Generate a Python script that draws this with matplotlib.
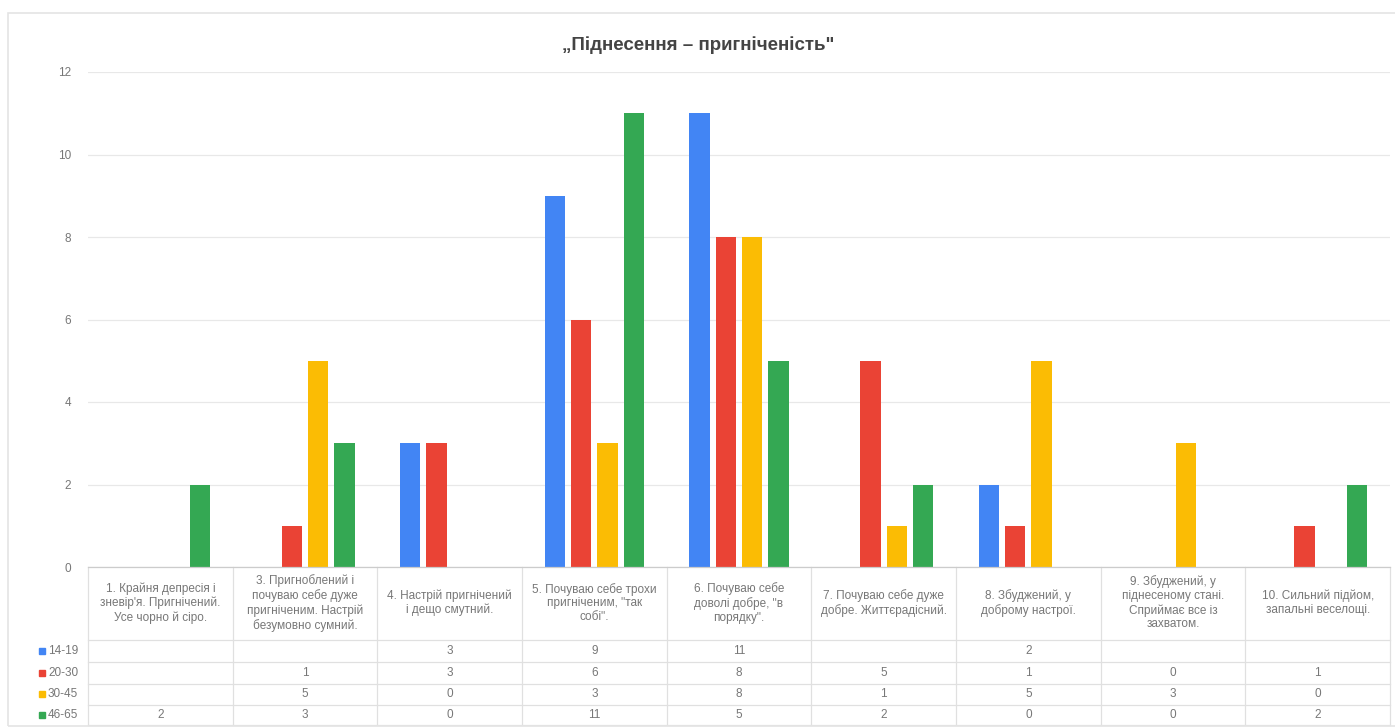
import numpy as np
import matplotlib
matplotlib.use("Agg")
from matplotlib import pyplot as plt
from matplotlib.patches import Rectangle

plt.rcParams["font.family"] = ["Liberation Sans", "DejaVu Sans"]

# categories of the scale (item 2 is absent in the survey)
categories = [
    "1. Крайня депресія і\nзневір'я. Пригнічений.\nУсе чорно й сіро.",
    "3. Пригноблений і\nпочуваю себе дуже\nпригніченим. Настрій\nбезумовно сумний.",
    "4. Настрій пригнічений\nі дещо смутний.",
    "5. Почуваю себе трохи\nпригніченим, \"так\nсобі\".",
    "6. Почуваю себе\nдоволі добре, \"в\nпорядку\".",
    "7. Почуваю себе дуже\nдобре. Життєрадісний.",
    "8. Збуджений, у\nдоброму настрої.",
    "9. Збуджений, у\nпіднесеному стані.\nСприймає все із\nзахватом.",
    "10. Сильний підйом,\nзапальні веселощі.",
]
groups = ["14-19", "20-30", "30-45", "46-65"]
nan = np.nan
vals_14_19 = [nan, nan, 3, 9, 11, nan, 2, nan, nan]
vals_20_30 = [nan, 1, 3, 6, 8, 5, 1, 0, 1]
vals_30_45 = [nan, 5, 0, 3, 8, 1, 5, 3, 0]
vals_46_65 = [2, 3, 0, 11, 5, 2, 0, 0, 2]
series = [vals_14_19, vals_20_30, vals_30_45, vals_46_65]
colors = ["#4285F4", "#EA4335", "#FBBC04", "#34A853"]
yticks = [0, 2, 4, 6, 8, 10, 12]

W, H = 1395, 727
fig = plt.figure(figsize=(W / 100, H / 100), dpi=100)

def fx(px):
    return px / W

def fy(py):
    return 1 - py / H

# card outline
fig.patches.append(Rectangle((fx(8), fy(726)), fx(1390), fy(13) - fy(726),
                             transform=fig.transFigure, fill=False,
                             edgecolor="#e4e4e4", lw=1.2))

fig.text(fx(698), fy(45), "„Піднесення – пригніченість\"", ha="center", va="center",
         fontsize=13.5, fontweight="bold", color="#444444")

# bar area
x0, x1 = 88, 1390
ax = fig.add_axes([fx(x0), fy(567), fx(x1 - x0), fy(72) - fy(567)])
n = len(categories)
x = np.arange(n)
step, width = 0.182, 0.142
for i, (vals, c) in enumerate(zip(series, colors)):
    ax.bar(x + (i - 1.5) * step, vals, width=width, color=c, zorder=3)
ax.set_xlim(-0.5, n - 0.5)
ax.set_ylim(0, 12)
ax.set_yticks(yticks)
ax.set_yticklabels([str(t) for t in yticks])
ax.set_xticks([])
ax.tick_params(axis="y", length=0, pad=12, labelsize=8.5, labelcolor="#777777")
ax.grid(axis="y", color="#e8e8e8", lw=0.9, zorder=0)
for s in ax.spines.values():
    s.set_visible(False)

# data table under the bars
tab = fig.add_axes([fx(x0), fy(725), fx(x1 - x0), fy(567) - fy(725)])
tab.set_xlim(-0.5, n - 0.5)
tab.set_ylim(725, 567)
tab.axis("off")
line_c = "#e0e0e0"
head_bottom = 640
row_y = [651, 673, 694, 715]
row_edges = [head_bottom, 662, 684, 705, 725]
for k in range(n + 1):
    tab.plot([k - 0.5, k - 0.5], [567, 725], color=line_c, lw=0.9, clip_on=False)
for e in row_edges:
    tab.plot([-0.5, n - 0.5], [e, e], color=line_c, lw=0.9, clip_on=False)
tab.plot([-0.5, n - 0.5], [567, 567], color="#cccccc", lw=0.9, clip_on=False)
for k, lab in enumerate(categories):
    tab.text(k, 603, lab, ha="center", va="center", fontsize=8.5, color="#777777",
             linespacing=1.2)
for vals, yy in zip(series, row_y):
    for k, v in enumerate(vals):
        if not np.isnan(v):
            tab.text(k, yy, str(int(v)), ha="center", va="center",
                     fontsize=8.5, color="#777777")

# legend keys in the left column
for g, c, yy in zip(groups, colors, row_y):
    fig.patches.append(Rectangle((fx(39), fy(yy + 3)), fx(6), fy(yy - 3) - fy(yy + 3),
                                 transform=fig.transFigure, color=c))
    fig.text(fx(48), fy(yy), g, ha="left", va="center", fontsize=8.5, color="#777777")

fig.savefig("out.png", dpi=100)
